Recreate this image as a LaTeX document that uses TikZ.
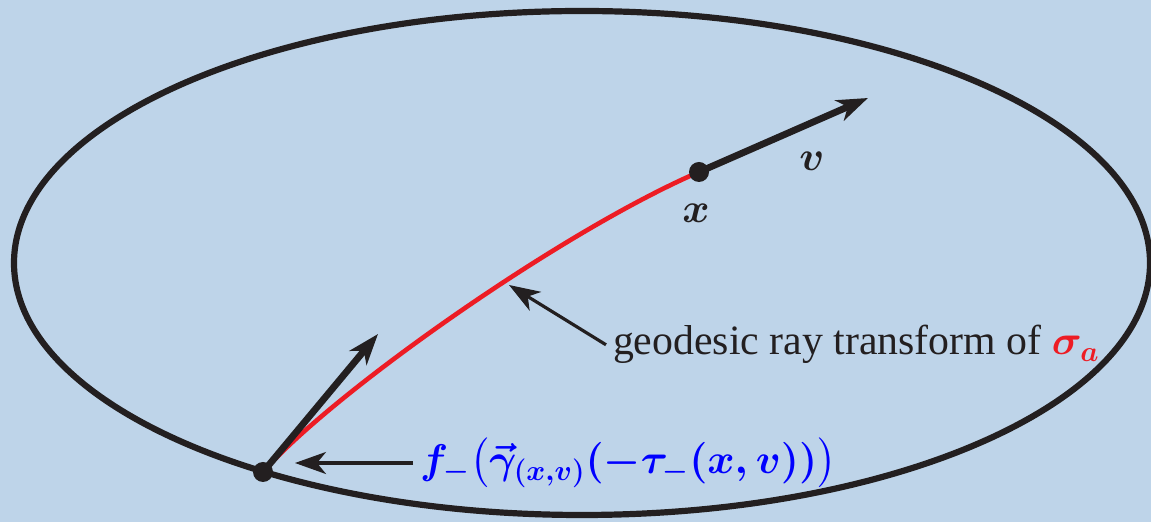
\documentclass[tikz,border=0pt]{standalone}
\usepackage[no-math]{fontspec}
\setmainfont{Liberation Serif}
\usepackage{amsmath}
\usetikzlibrary{arrows.meta}

\definecolor{bgblue}{RGB}{190,212,233}
\definecolor{inkblack}{RGB}{35,31,32}
\definecolor{rayred}{RGB}{237,28,36}
\definecolor{labelblue}{RGB}{0,0,255}

\newsavebox\fminusbox
\begin{document}
\sbox\fminusbox{\fontsize{21.6}{25}\selectfont\color{labelblue}\boldmath
  $f_-\bigl(\vec{\gamma}_{(x,v)}(-\tau_-(x,v))\bigr)$}
\begin{tikzpicture}[
  x=0.5pt, y=-0.5pt,
  every node/.style={font=\rmfamily\fontsize{20.9}{25}\selectfont, text=inkblack},
  vecarrow/.style={draw=inkblack, line width=3.4pt,
    -{Stealth[length=15.5pt, width=11pt, inset=4.5pt]}},
  pointer/.style={draw=inkblack, line width=1.6pt,
    -{Stealth[length=15.5pt, width=11pt, inset=4.5pt]}},
  dot/.style={circle, fill=inkblack, inner sep=0pt, minimum size=10pt}
]

%% ── background ───────────────────────────────────────────────────────────────
\fill[bgblue] (0,0) rectangle (1151,522);
\useasboundingbox (0,0) rectangle (1151,522);

%% ── boundary of the domain ───────────────────────────────────────────────────
\draw[inkblack, line width=3.1pt] (582,263) ellipse [x radius=284pt, y radius=126pt];

%% ── points ───────────────────────────────────────────────────────────────────
\coordinate (p) at (263,472);
\coordinate (x) at (699,172);
\coordinate (vtip) at (868,98);
\coordinate (wtip) at (378,334);
\coordinate (raypt) at (509,285);

%% ── geodesic (red) ───────────────────────────────────────────────────────────
\draw[rayred, line width=2.3pt]
  (p) .. controls (330,395) and (560,232) .. (x);

%% ── tangent vectors ──────────────────────────────────────────────────────────
\draw[vecarrow] (x) -- (vtip);
\draw[vecarrow] (p) -- (wtip);

\node[dot] (xdot) at (x) {};
\node[dot] (pdot) at (p) {};

%% ── labels ───────────────────────────────────────────────────────────────────
\node (xlab) at (696,213) {$\boldsymbol{x}$};
\node (vlab) at (812,161) {$\boldsymbol{v}$};

\node[anchor=base west] (geo) at (606,355)
  {geodesic ray transform of \textcolor{rayred}{$\boldsymbol{\sigma_a}$}};

\node[anchor=west] (fminus) at (413,463) {\usebox\fminusbox};

%% ── pointers ─────────────────────────────────────────────────────────────────
\draw[pointer] (geo.west) -- (raypt);
\draw[pointer, shorten >=16pt] (fminus.west) -- (fminus.west -| p);

\end{tikzpicture}
\end{document}
